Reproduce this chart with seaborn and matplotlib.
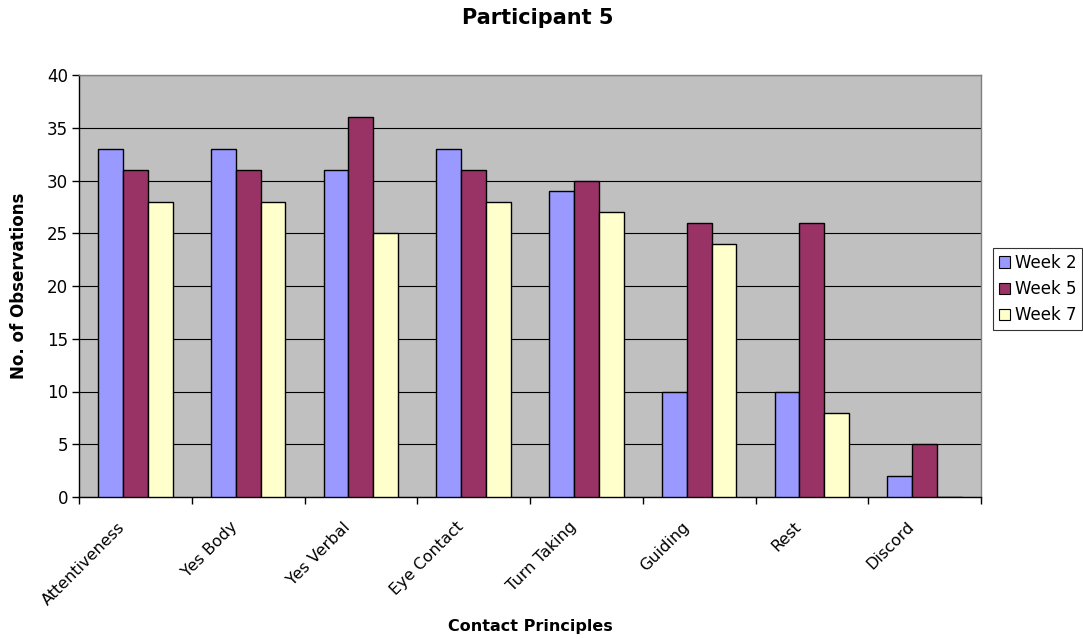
import matplotlib
matplotlib.use("Agg")
import matplotlib.pyplot as plt
from matplotlib.transforms import ScaledTranslation
import seaborn as sns
import pandas as pd
import numpy as np

categories = ["Attentiveness", "Yes Body", "Yes Verbal", "Eye Contact",
              "Turn Taking", "Guiding", "Rest", "Discord"]
series_names = ["Week 2", "Week 5", "Week 7"]
week2 = [33, 33, 31, 33, 29, 10, 10, 2]
week5 = [31, 31, 36, 31, 30, 26, 26, 5]
week7 = [28, 28, 25, 28, 27, 24, 8, 0]
y_ticks = [0, 5, 10, 15, 20, 25, 30, 35, 40]

colors = ["#9999FF", "#993366", "#FFFFCC"]

df = pd.DataFrame({
    "Principle": categories * 3,
    "Week": np.repeat(series_names, len(categories)),
    "Count": week2 + week5 + week7,
})

sns.set_theme(style="white")
plt.rcParams["font.family"] = ["DejaVu Sans"]
for key in ["text.color", "axes.labelcolor", "xtick.color", "ytick.color"]:
    plt.rcParams[key] = "black"

W, H = 1083, 639
fig = plt.figure(figsize=(W / 100, H / 100), dpi=100)
ax = fig.add_axes([79 / W, 1 - 497 / H, (981 - 79) / W, (497 - 75) / H])
ax.set_facecolor("#C0C0C0")

sns.barplot(data=df, x="Principle", y="Count", hue="Week", order=categories,
            hue_order=series_names, palette=colors, width=0.66, gap=0,
            edgecolor="black", linewidth=1.0, saturation=1, ax=ax, zorder=3)

ax.set_xlim(-0.5, len(categories) - 0.5)
ax.set_ylim(0, 40)
ax.set_yticks(y_ticks)
ax.yaxis.grid(True, color="black", linewidth=0.8, zorder=0)
ax.set_axisbelow(True)

# category labels at centres, tick marks on the boundaries
ax.set_xticks(range(len(categories)))
ax.set_xticklabels(categories, rotation=45, ha="right", va="top",
                   rotation_mode="anchor", fontsize=11.5)
ax.tick_params(axis="x", which="major", length=0, pad=16)
shift = ScaledTranslation(-18 / 100, 0, fig.dpi_scale_trans)
for lbl in ax.get_xticklabels():
    lbl.set_transform(lbl.get_transform() + shift)
ax.set_xticks(np.arange(-0.5, len(categories), 1.0), minor=True)
ax.tick_params(axis="x", which="minor", length=5, width=1, color="black",
               direction="out", bottom=True)
ax.tick_params(axis="y", length=5, width=1, color="black", direction="out",
               left=True, labelsize=12, pad=3)

for side in ["left", "bottom"]:
    ax.spines[side].set_color("black")
    ax.spines[side].set_linewidth(1.0)
for side in ["top", "right"]:
    ax.spines[side].set_color("#808080")
    ax.spines[side].set_linewidth(1.0)

ax.set_xlabel("Contact Principles", fontsize=11.5, fontweight="bold")
ax.set_ylabel("No. of Observations", fontsize=12, fontweight="bold")
ax.xaxis.set_label_coords(0.5, (497 - 627) / (497 - 75))
ax.xaxis.label.set_va("center")
ax.yaxis.set_label_coords((19 - 79) / (981 - 79), 0.5)
ax.yaxis.label.set_va("center")

fig.text(538 / W, 1 - 18 / H, "Participant 5", ha="center", va="center",
         fontsize=15, fontweight="bold")

ax.get_legend().remove()
handles = [plt.Rectangle((0, 0), 1, 1, facecolor=c, edgecolor="black", linewidth=0.8)
           for c in colors]
leg = fig.legend(handles, series_names, loc="upper left",
                 bbox_to_anchor=(993 / W, 1 - 248 / H), fontsize=12,
                 frameon=True, fancybox=False, edgecolor="black",
                 handlelength=0.66, handleheight=0.66, handletextpad=0.3,
                 borderpad=0.35, labelspacing=0.5, borderaxespad=0)
leg.get_frame().set_linewidth(0.8)

fig.savefig("out.png", dpi=100, facecolor="white")
